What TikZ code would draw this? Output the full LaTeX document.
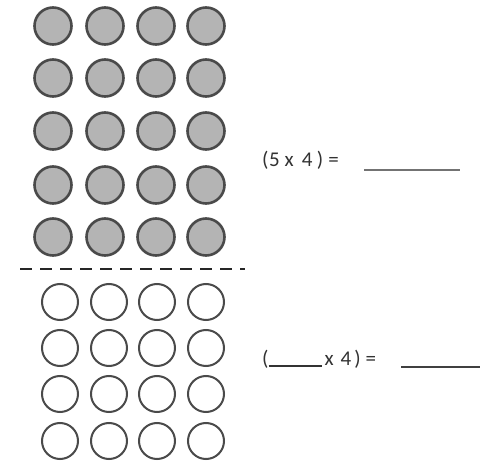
\documentclass[tikz,border=0pt]{standalone}
\usepackage{fontspec}
\setmainfont{Carlito}
\definecolor{dotfill}{HTML}{B4B4B4}
\definecolor{dotline}{HTML}{4A4A4A}
\begin{document}
\begin{tikzpicture}[x=1pt,y=-1pt,
  fulldot/.style={circle,draw=dotline,fill=dotfill,line width=2.6pt,minimum size=37pt,inner sep=0pt},
  emptydot/.style={circle,draw=dotline,line width=2pt,minimum size=36pt,inner sep=0pt},
  eqtext/.style={anchor=base west,inner sep=0pt,font=\fontsize{21}{24}\selectfont,text=black!80},
  blank/.style={draw=black!75,line width=1.8pt}]
\useasboundingbox[fill=white] (0,0) rectangle (493,462);
% filled dots
\foreach \r/\y in {1/26,2/78,3/131,4/185,5/237}{
  \foreach \c/\x in {1/53,2/105,3/156,4/206}{
    \node[fulldot] (f\r\c) at (\x,\y) {};
  }
}
% dashed separator
\coordinate (dl) at (20,269);
\coordinate (dr) at (245,269);
\draw[dashed,dash pattern=on 12pt off 8pt,line width=2.8pt,draw=black!85] (dl) -- (dr);
% empty dots
\foreach \r/\y in {1/302,2/348,3/394,4/441}{
  \foreach \c/\x in {1/60,2/109,3/157,4/206}{
    \node[emptydot] (e\r\c) at (\x,\y) {};
  }
}
% equations
\node[eqtext] (eq1) at (262,167) {(\hspace{0.5pt}5\hspace{5pt}x\hspace{8pt}4\hspace{4.5pt})\hspace{5pt}=};
\coordinate (b1l) at (364,170);
\coordinate (b1r) at (460,170);
\draw[blank,draw=black!55] (b1l) -- (b1r);
\node[eqtext] (eq2) at (262,366) {(\rule[-1.2pt]{53pt}{1.8pt}\hspace{3pt}x\hspace{7pt}4\hspace{3pt})\hspace{5pt}=};
\coordinate (b2l) at (401,367);
\coordinate (b2r) at (480,367);
\draw[blank] (b2l) -- (b2r);
\end{tikzpicture}
\end{document}
